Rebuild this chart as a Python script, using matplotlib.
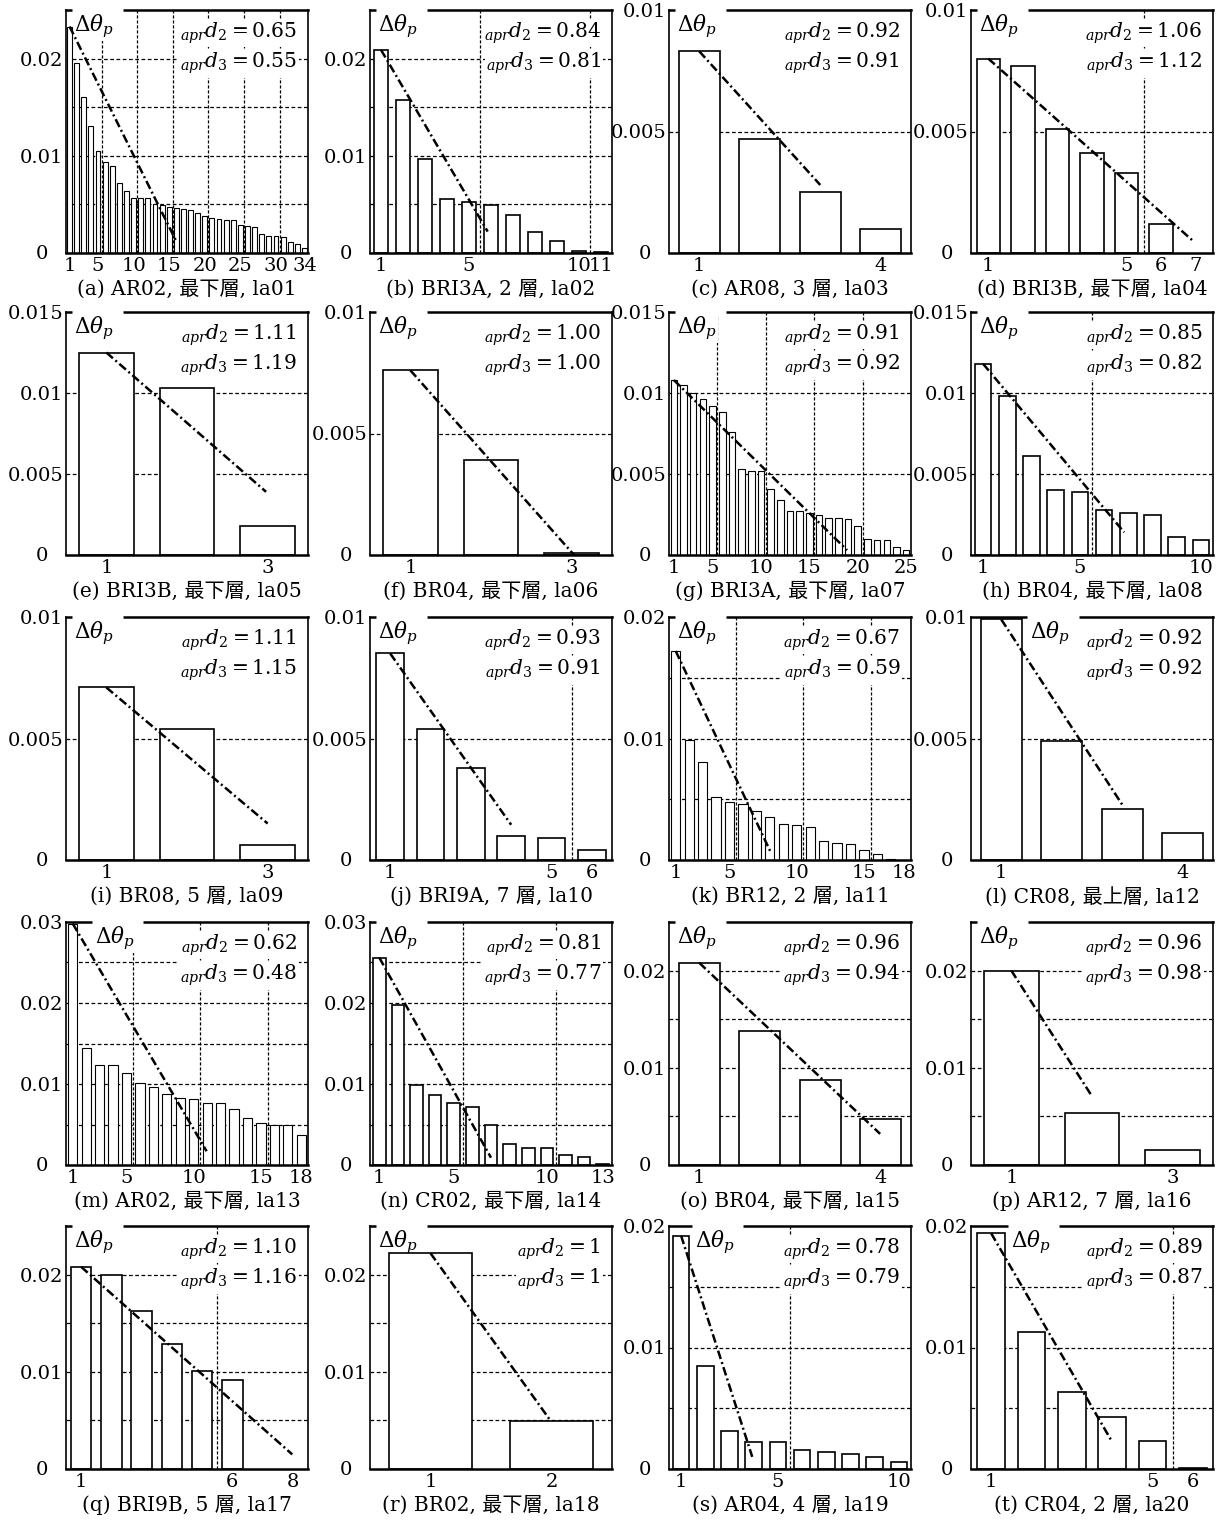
import numpy as np
import matplotlib
matplotlib.use('Agg')
import matplotlib.pyplot as plt

plt.rcParams['font.family'] = ['DejaVu Serif', 'Noto Sans CJK JP']
plt.rcParams['mathtext.fontset'] = 'dejavuserif'

# interstory drift increments, one list per record (bar 1 = largest)
la01 = [0.0233, 0.0195, 0.0161, 0.0131, 0.0105, 0.0094, 0.0089, 0.0072, 0.0064, 0.0057,
        0.0057, 0.0057, 0.0050, 0.0049, 0.0047, 0.0046, 0.0045, 0.0044, 0.0041, 0.0038,
        0.0036, 0.0035, 0.0034, 0.0034, 0.0029, 0.0028, 0.0027, 0.0020, 0.0018, 0.0018,
        0.0016, 0.0011, 0.0009, 0.0005]
la02 = [0.0209, 0.0157, 0.0097, 0.0056, 0.0052, 0.0049, 0.0039, 0.0022, 0.0012, 0.0002, 0.0001]
la03 = [0.0083, 0.0047, 0.0025, 0.0010]
la04 = [0.0080, 0.0077, 0.0051, 0.0041, 0.0033, 0.0012]
la05 = [0.0125, 0.0103, 0.0018]
la06 = [0.0076, 0.0039, 0.0001]
la07 = [0.0108, 0.0105, 0.0100, 0.0096, 0.0092, 0.0088, 0.0076, 0.0053, 0.0052, 0.0052,
        0.0041, 0.0034, 0.0027, 0.0027, 0.0026, 0.0025, 0.0023, 0.0023, 0.0022, 0.0018,
        0.0010, 0.0009, 0.0009, 0.0005, 0.0003]
la08 = [0.0118, 0.0098, 0.0061, 0.0040, 0.0039, 0.0028, 0.0026, 0.0025, 0.0011, 0.0009]
la09 = [0.0071, 0.0054, 0.0006]
la10 = [0.0085, 0.0054, 0.0038, 0.0010, 0.0009, 0.0004]
la11 = [0.0172, 0.0099, 0.0081, 0.0052, 0.0048, 0.0046, 0.0040, 0.0035, 0.0030, 0.0029,
        0.0027, 0.0016, 0.0014, 0.0013, 0.0008, 0.0005, 0.0001, 0.0]
la12 = [0.0099, 0.0049, 0.0021, 0.0011]
la13 = [0.0298, 0.0145, 0.0124, 0.0124, 0.0113, 0.0101, 0.0096, 0.0088, 0.0083, 0.0081,
        0.0077, 0.0076, 0.0069, 0.0058, 0.0052, 0.0050, 0.0050, 0.0037]
la14 = [0.0256, 0.0198, 0.0099, 0.0087, 0.0077, 0.0072, 0.0050, 0.0026, 0.0021, 0.0021,
        0.0012, 0.0010, 0.0001]
la15 = [0.0208, 0.0138, 0.0087, 0.0047]
la16 = [0.0200, 0.0054, 0.0015]
la17 = [0.0208, 0.0200, 0.0163, 0.0129, 0.0101, 0.0092]
la18 = [0.0222, 0.0049]
la19 = [0.0192, 0.0085, 0.0031, 0.0022, 0.0022, 0.0016, 0.0014, 0.0012, 0.0010, 0.0006]
la20 = [0.0194, 0.0113, 0.0063, 0.0043, 0.0023, 0.0001]

records = [la01, la02, la03, la04, la05, la06, la07, la08, la09, la10,
           la11, la12, la13, la14, la15, la16, la17, la18, la19, la20]

captions = ['(a) AR02, 最下層, la01', '(b) BRI3A, 2 層, la02', '(c) AR08, 3 層, la03',
            '(d) BRI3B, 最下層, la04', '(e) BRI3B, 最下層, la05', '(f) BR04, 最下層, la06',
            '(g) BRI3A, 最下層, la07', '(h) BR04, 最下層, la08', '(i) BR08, 5 層, la09',
            '(j) BRI9A, 7 層, la10', '(k) BR12, 2 層, la11', '(l) CR08, 最上層, la12',
            '(m) AR02, 最下層, la13', '(n) CR02, 最下層, la14', '(o) BR04, 最下層, la15',
            '(p) AR12, 7 層, la16', '(q) BRI9B, 5 層, la17', '(r) BR02, 最下層, la18',
            '(s) AR04, 4 層, la19', '(t) CR04, 2 層, la20']

d2 = ['0.65', '0.84', '0.92', '1.06', '1.11', '1.00', '0.91', '0.85', '1.11', '0.93',
      '0.67', '0.92', '0.62', '0.81', '0.96', '0.96', '1.10', '1', '0.78', '0.89']
d3 = ['0.55', '0.81', '0.91', '1.12', '1.19', '1.00', '0.92', '0.82', '1.15', '0.91',
      '0.59', '0.92', '0.48', '0.77', '0.94', '0.98', '1.16', '1', '0.79', '0.87']

ymax = [0.025, 0.025, 0.01, 0.01, 0.015, 0.01, 0.015, 0.015, 0.01, 0.01,
        0.02, 0.01, 0.03, 0.03, 0.025, 0.025, 0.025, 0.025, 0.02, 0.02]

xticks = [[1, 5, 10, 15, 20, 25, 30, 34], [1, 5, 10, 11], [1, 4], [1, 5, 6, 7],
          [1, 3], [1, 3], [1, 5, 10, 15, 20, 25], [1, 5, 10],
          [1, 3], [1, 5, 6], [1, 5, 10, 15, 18], [1, 4],
          [1, 5, 10, 15, 18], [1, 5, 10, 13], [1, 4], [1, 3],
          [1, 6, 8], [1, 2], [1, 5, 10], [1, 5, 6]]

# end point of the fitted decay line (it starts on top of bar 1)
fit_end_x = [16.0, 5.85, 3.0, 6.92, 2.98, 3.03, 18.9, 6.83, 3.0, 4.0,
             8.04, 3.02, 10.96, 7.0, 3.99, 1.99, 7.98, 1.99, 3.94, 3.97]
fit_end_y = [0.0012, 0.0022, 0.0028, 0.0005, 0.0039, 0.0, 0.0003, 0.0014, 0.0015, 0.00145,
             0.0007, 0.0022, 0.0017, 0.0009, 0.0032, 0.0072, 0.0015, 0.0050, 0.0010, 0.0024]

# layout in pixels
W, H = 1229, 1521
col_left = [66, 370, 669, 971]
row_top = [10, 312, 617, 922, 1226]
aw, ah = 242, 243
label_x = {11: 0.245, 12: 0.12, 18: 0.107, 19: 0.164}

fig = plt.figure(figsize=(W / 100, H / 100), dpi=100)

for i, vals in enumerate(records):
    r, c = divmod(i, 4)
    ax = fig.add_axes([col_left[c] / W, 1 - (row_top[r] + ah) / H, aw / W, ah / H])
    n = len(vals)
    xs = np.arange(1, n + 1)
    xmax = xticks[i][-1]
    ax.set_xlim(0.5, xmax + 0.5)
    ax.set_ylim(0, ymax[i])

    # dashed grid behind the bars
    for yv in np.arange(0.005, ymax[i] - 1e-9, 0.005):
        ax.axhline(yv, color='black', lw=0.9, ls=(0, (3, 2)), zorder=1)
    for xv in np.arange(5.5, xmax + 0.5, 5):
        ax.axvline(xv, color='black', lw=0.9, ls=(0, (2.5, 1.5)), zorder=1)

    ax.bar(xs, vals, width=0.68, color='white', edgecolor='black',
           lw=0.8 if n > 15 else 1.2, zorder=2)
    ax.plot([1, fit_end_x[i]], [vals[0], fit_end_y[i]], color='black', lw=1.8,
            ls=(0, (3.5, 1.3, 0.8, 1.3)), zorder=4)

    # axis ticks and labels
    step = 0.005 if ymax[i] <= 0.015 else 0.01
    yt = np.arange(0, ymax[i] + 1e-9, step)
    ax.set_yticks(yt)
    ax.set_yticklabels([''] + [f'{v:g}' for v in yt[1:]])
    ax.annotate('0', xy=(0, 0), xycoords=('axes fraction', 'data'), xytext=(-13, -1),
                textcoords='offset points', ha='right', va='center', fontsize=14)
    ax.set_xticks(xticks[i])
    ax.tick_params(axis='both', length=0, labelsize=14)
    ax.tick_params(axis='x', pad=3)
    ax.tick_params(axis='y', pad=2)

    for side in ['top', 'bottom']:
        ax.spines[side].set_linewidth(1.8)
    for side in ['left', 'right']:
        ax.spines[side].set_linewidth(1.2)

    # Delta-theta label breaks the top frame line
    lx = label_x.get(i, 0.035)
    ax.plot([lx - 0.012, lx + 0.2], [1, 1], transform=ax.transAxes, color='white',
            lw=3.5, clip_on=False, solid_capstyle='butt', zorder=2.6)
    ax.text(lx, 0.99, r'$\mathit{\Delta}\theta_p$', transform=ax.transAxes,
            ha='left', va='top', fontsize=15.5, zorder=1.5,
            bbox=dict(fc='white', ec='none', pad=1))
    ax.text(0.955, 0.905, r'${}_{apr}d_2 = ' + d2[i] + '$', transform=ax.transAxes,
            ha='right', va='center', fontsize=14.5, zorder=3,
            bbox=dict(fc='white', ec='none', pad=1))
    ax.text(0.955, 0.78, r'${}_{apr}d_3 = ' + d3[i] + '$', transform=ax.transAxes,
            ha='right', va='center', fontsize=14.5, zorder=3,
            bbox=dict(fc='white', ec='none', pad=1))
    ax.text(0.5, -0.15, captions[i], transform=ax.transAxes, ha='center', va='center',
            fontsize=14.5)

fig.savefig('out.png', dpi=100, facecolor='white')
